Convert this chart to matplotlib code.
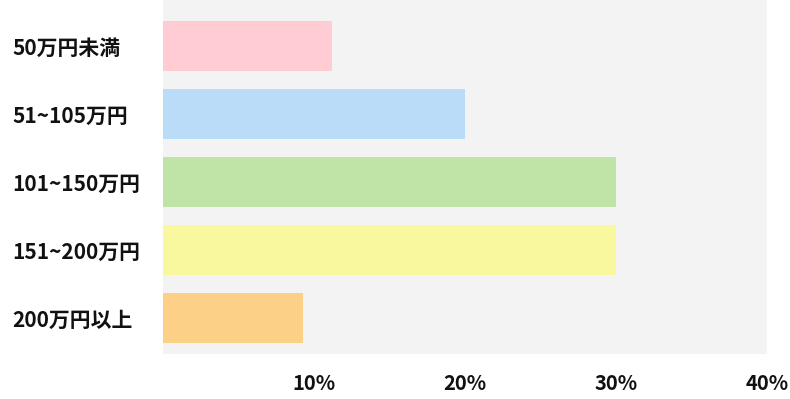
import matplotlib
matplotlib.use("Agg")
import matplotlib.pyplot as plt

plt.rcParams['font.family'] = ['Noto Sans CJK JP', 'DejaVu Sans']

# 年収帯ごとの割合
categories = ['50万円未満', '51~105万円', '101~150万円', '151~200万円', '200万円以上']
values = [11.2, 20.0, 30.0, 30.0, 9.3]
colors = ['#FFCCD3', '#BBDCF9', '#C0E3A8', '#F9F89E', '#FCD087']
xticks = [10, 20, 30, 40]
xtick_labels = ['10%', '20%', '30%', '40%']

fig = plt.figure(figsize=(7.9, 3.99), dpi=100)
ax = fig.add_axes([163 / 790, 1 - 354 / 399, 604 / 790, 354 / 399])
ax.set_facecolor('#F3F3F3')

step = 68.1  # 1カテゴリあたりのピクセル
ypos = list(range(len(categories)))
ax.barh(ypos, values, height=50 / step, color=colors)

ax.set_xlim(0, 40)
ax.set_ylim(4 + 35.5 / step, -46.1 / step)
ax.set_xticks(xticks)
ax.set_xticklabels(xtick_labels)
ax.set_yticks(ypos)
ax.set_yticklabels(categories)
for lbl in ax.get_yticklabels():
    lbl.set_horizontalalignment('left')
    lbl.set_fontsize(15)
for lbl in ax.get_xticklabels():
    lbl.set_fontsize(14.5)
for lbl in ax.get_xticklabels() + ax.get_yticklabels():
    lbl.set_fontweight('bold')
    lbl.set_color('#111111')

ax.tick_params(axis='y', length=0, pad=151 * 0.72)
ax.tick_params(axis='x', length=0, pad=14)
for s in ax.spines.values():
    s.set_visible(False)

fig.savefig('out.png', dpi=100)
